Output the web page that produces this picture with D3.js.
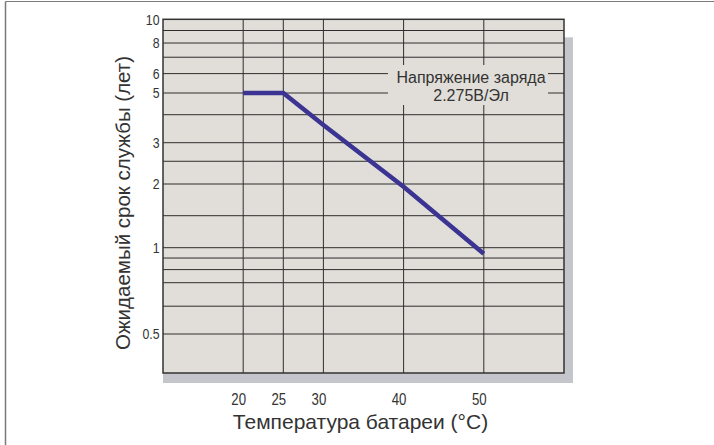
<!DOCTYPE html>
<html><head><meta charset="utf-8">
<script src="https://cdn.jsdelivr.net/npm/d3@7/dist/d3.min.js"></script>
<style>
html,body{margin:0;padding:0;background:#fff;}
svg{display:block;}
text{fill:#333;font-family:"Liberation Sans",Arial,sans-serif;}
</style></head>
<body>
<script>
// ---- data ----
const temps = [20, 25, 30, 40, 50];
const lifeYears = [5, 5, 3.6, 1.95, 0.94];
const xTicks = [20, 25, 30, 40, 50];
const yTickLabels = [10, 8, 6, 5, 3, 2, 1, 0.5];
const yGridValues = [9, 8, 7, 6, 5, 4, 3, 2.5, 2, 1.5, 1, 0.9, 0.8, 0.7, 0.6, 0.5];
const annotationLines = ["Напряжение заряда", "2.275В/Эл"];
const xTitle = "Температура батареи (°C)";
const yTitle = "Ожидаемый срок службы (лет)";

const W = 714, H = 445;
const svg = d3.select("body").append("svg").attr("width", W).attr("height", H);

// frame
svg.append("line").attr("x1",5.5).attr("x2",W).attr("y1",1.5).attr("y2",1.5).attr("stroke","#7a7a7a").attr("stroke-width",1.2);
svg.append("line").attr("x1",5.5).attr("x2",5.5).attr("y1",1.5).attr("y2",H).attr("stroke","#7a7a7a").attr("stroke-width",1.5);

// scales (hand-drawn chart: piecewise log for y)
const x = d3.scaleLinear().domain([10, 60]).range([163, 564]);
const y = d3.scaleLog()
  .domain([10, 5, 3, 2, 1.5, 1, 0.7, 0.5, 0.38])
  .range([19.3, 93, 142.7, 184, 215.7, 247.7, 282.7, 334, 373]);

const x0 = x.range()[0], x1 = x.range()[1];
const yTop = y(10), yBot = y(0.38);

// shadow
svg.append("rect").attr("x", x0).attr("y", yTop + 18).attr("width", x1 - x0 + 9).attr("height", yBot - yTop - 8)
  .attr("fill", "#c5c6cc");
// plot background
svg.append("rect").attr("x", x0).attr("y", yTop).attr("width", x1 - x0).attr("height", yBot - yTop)
  .attr("fill", "#e1ded9");

// grid
const grid = svg.append("g").attr("stroke", "#2e2e2e").attr("stroke-width", 1);
grid.selectAll("line.h").data(yGridValues).join("line").attr("class","h")
  .attr("x1", x0).attr("x2", x1).attr("y1", d => y(d)).attr("y2", d => y(d));
grid.selectAll("line.v").data(xTicks).join("line").attr("class","v")
  .attr("x1", d => x(d)).attr("x2", d => x(d)).attr("y1", yTop).attr("y2", yBot);

// annotation background box
const ann = svg.append("g");
ann.append("rect").attr("x", 388).attr("y", 65).attr("width", 160).attr("height", 40).attr("fill", "#e1ded9");
ann.selectAll("text").data(annotationLines).join("text")
  .attr("x", 471).attr("y", (d, i) => 83 + i * 18)
  .attr("text-anchor", "middle").attr("font-size", 16).text(d => d);

// plot border
svg.append("rect").attr("x", x0).attr("y", yTop).attr("width", x1 - x0).attr("height", yBot - yTop)
  .attr("fill", "none").attr("stroke", "#333").attr("stroke-width", 1.5);

// line
const line = d3.line().x((d, i) => x(temps[i])).y(d => y(d));
svg.append("path").datum(lifeYears).attr("d", line)
  .attr("fill", "none").attr("stroke", "#3b3492").attr("stroke-width", 4.5)
  .attr("stroke-linejoin", "miter").attr("stroke-linecap", "butt");

// y tick labels (condensed look)
svg.append("g").selectAll("text").data(yTickLabels).join("text")
  .attr("transform", d => `translate(159.5,${y(d)}) scale(0.82,1)`)
  .attr("dy", "0.36em")
  .attr("text-anchor", "end").attr("font-size", 15)
  .text(d => d);

// x tick labels
svg.append("g").selectAll("text").data(xTicks).join("text")
  .attr("transform", d => `translate(${x(d) - 4.5},404.5) scale(0.8,1)`)
  .attr("text-anchor", "middle").attr("font-size", 16.5)
  .text(d => d);

// axis titles
svg.append("text").attr("x", 360.5).attr("y", 428.5).attr("text-anchor", "middle")
  .attr("font-size", 21).text(xTitle);
svg.append("text").attr("transform", "translate(130,203) rotate(-90)").attr("text-anchor", "middle")
  .attr("font-size", 20.5).text(yTitle);
</script>
</body></html>
